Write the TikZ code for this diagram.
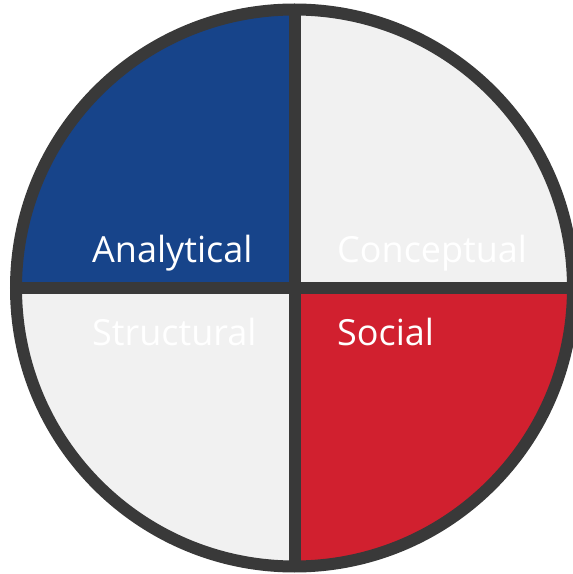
\documentclass[tikz,border=0pt]{standalone}
\usepackage{fontspec}
\setmainfont{Open Sans}
\definecolor{qblue}{HTML}{17448A}
\definecolor{qred}{HTML}{D1202F}
\definecolor{qgray}{HTML}{F1F1F1}
\definecolor{qdark}{HTML}{393939}
\tikzset{
  rim/.style={draw=qdark, line width=12pt},
  label/.style={anchor=base west, inner sep=0pt, text=white, font=\fontsize{36}{40}\selectfont}
}
\begin{document}
\begin{tikzpicture}[x=1pt,y=1pt]
\useasboundingbox (0,0) rectangle (573,574);
\clip (0,0) rectangle (573,574);
\coordinate (c) at (294.5,286);
\def\R{278.5}
\fill[qblue] (c) -- ++(90:\R) arc[start angle=90, end angle=180, radius=\R] -- cycle;
\fill[qgray] (c) -- ++(0:\R) arc[start angle=0, end angle=90, radius=\R] -- cycle;
\fill[qgray] (c) -- ++(180:\R) arc[start angle=180, end angle=270, radius=\R] -- cycle;
\fill[qred] (c) -- ++(270:\R) arc[start angle=270, end angle=360, radius=\R] -- cycle;
\draw[rim] (c) circle[radius=\R];
\coordinate (vt) at (294.5,569);
\coordinate (vb) at (294.5,2);
\coordinate (hl) at (10,286);
\coordinate (hr) at (580,286);
\draw[rim] (vt) -- (vb);
\draw[rim] (hl) -- (hr);
\node[label] (analytical) at (92,311.7) {Analytical};
\node[label] (conceptual) at (337,311.7) {Conceptual};
\node[label] (structural) at (92,228.3) {Structural};
\node[label] (social) at (337,228.3) {Social};
\end{tikzpicture}
\end{document}
